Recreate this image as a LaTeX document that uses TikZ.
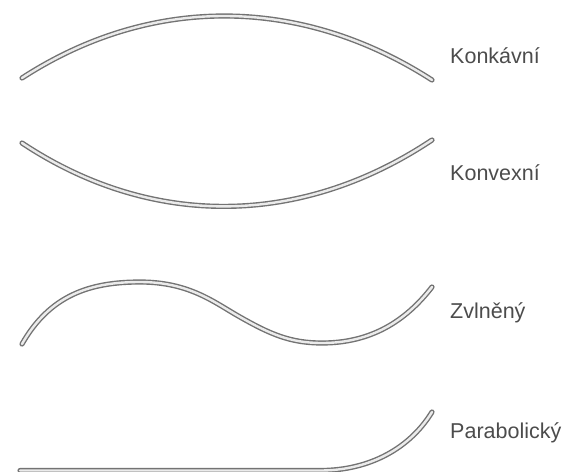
\documentclass[tikz,border=0pt]{standalone}
\usepackage{fontspec}
\setmainfont{Liberation Sans}
\usepackage{tikz}
\usetikzlibrary{positioning}

\begin{document}
\begin{tikzpicture}[x=1pt, y=-1pt]
  \tikzset{prut/.style={draw=black!55, line width=1.4pt, double=white!92!black, double distance=2.4pt, line cap=round},
           popis/.style={anchor=west, text=black!70, font=\fontsize{21.5}{24}\selectfont, inner sep=0pt}}
  \useasboundingbox (0,0) rectangle (564,471);
  % konkavni
  \coordinate (k1) at (22,78);
  \coordinate (k2) at (432,80);
  \draw[prut] (k1) .. controls (150,-5) and (300,-5) .. (k2);
  \node[popis] (konkav) at (450,56) {Konkávní};
  % konvexni
  \coordinate (v1) at (22,143);
  \coordinate (v2) at (432,140);
  \draw[prut] (v1) .. controls (150,228) and (300,228) .. (v2);
  \node[popis] (konvex) at (450,173) {Konvexní};
  % zvlneny
  \coordinate (z1) at (22,344);
  \coordinate (z2) at (432,287);
  \draw[prut] (z1) .. controls (50,295) and (90,282) .. (140,282)
    .. controls (190,282) and (215,303) .. (240,317)
    .. controls (270,334) and (290,343) .. (322,343)
    .. controls (370,343) and (405,322) .. (z2);
  \node[popis] (zvlnen) at (450,313) {Zvlněný};
  % parabolicky
  \coordinate (p1) at (20,470.5);
  \coordinate (p2) at (432,412);
  \draw[prut] (p1) -- (320,470.5) .. controls (370,470.5) and (410,448) .. (p2);
  \node[popis] (parab) at (450,433) {Parabolický};
\end{tikzpicture}
\end{document}
